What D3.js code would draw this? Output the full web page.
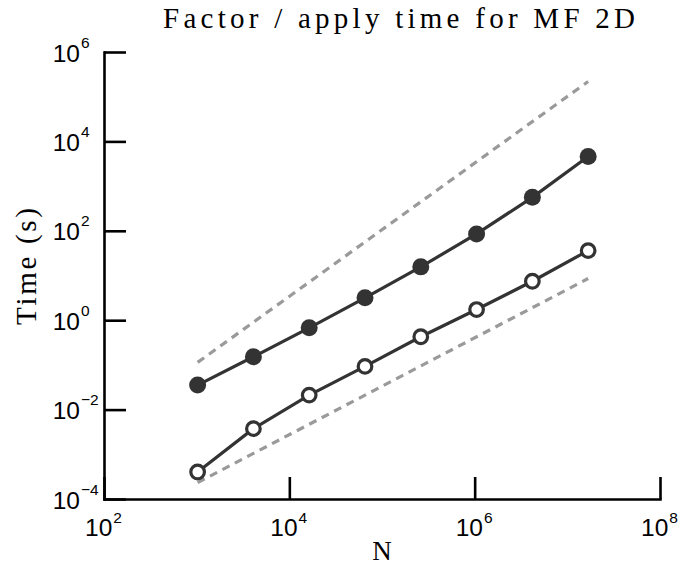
<!DOCTYPE html>
<html><head><meta charset="utf-8">
<script src="https://cdn.jsdelivr.net/npm/d3@7"></script>
<style>body{margin:0;background:#fff}</style>
</head><body>
<svg id="c" width="681" height="573"></svg>
<script>
const N = [1024, 4096, 16384, 65536, 262144, 1048576, 4194304, 16777216];
const factorTime = [0.0353, 0.152, 0.676, 3.16, 15.6, 85.2, 560, 4610];
const applyTime = [4.02e-4, 3.75e-3, 0.0211, 0.0925, 0.426, 1.73, 7.43, 36.1];
const refUpper = [[1024, 0.114], [16777216, 2.19e5]];
const refLower = [[1024, 2.33e-4], [16777216, 8.55]];
const xTickExp = [2, 4, 6, 8];
const yTickExp = [-4, -2, 0, 2, 4, 6];
const title = "Factor / apply time for MF 2D";
const xLabel = "N";
const yLabel = "Time (s)";

const svg = d3.select("#c");
const x = d3.scaleLog().domain([1e2, 1e8]).range([104, 660]);
const y = d3.scaleLog().domain([1e-4, 1e6]).range([499, 52]);

const sans = "'Liberation Sans', Arial, Helvetica, sans-serif";
const serif = "'Liberation Serif', 'Times New Roman', serif";

// axes
const xAxis = d3.axisBottom(x).tickValues(xTickExp.map(e => Math.pow(10, e)))
  .tickSizeInner(-22).tickSizeOuter(0).tickFormat("");
const yAxis = d3.axisLeft(y).tickValues(yTickExp.map(e => Math.pow(10, e)))
  .tickSizeInner(-22).tickSizeOuter(0).tickFormat("");
const gx = svg.append("g").attr("transform", `translate(0,${y.range()[0]})`).call(xAxis);
const gy = svg.append("g").attr("transform", `translate(${x.range()[0]},0)`).call(yAxis);
[gx, gy].forEach(g => {
  g.selectAll("path,line").attr("stroke", "#000").attr("stroke-width", 2.6);
  g.select(".domain").attr("stroke-linecap", "square");
});

// x tick labels
xTickExp.forEach(e => {
  const t = svg.append("text").attr("x", x(Math.pow(10, e)) - 19).attr("y", 536)
    .attr("font-family", sans).attr("font-size", 24.5).attr("fill", "#000");
  t.append("tspan").text("10");
  t.append("tspan").attr("dy", -13).attr("font-size", 15.5).attr("dx", 1).text(String(e).replace("-", "\u2212"));
});
// y tick labels
yTickExp.forEach(e => {
  const yy = y(Math.pow(10, e)) + 9.5;
  svg.append("text").attr("x", 80).attr("y", yy).attr("text-anchor", "end")
    .attr("font-family", sans).attr("font-size", 24.5).attr("fill", "#000").text("10");
  svg.append("text").attr("x", 81).attr("y", yy - 14)
    .attr("font-family", sans).attr("font-size", 15.5).attr("fill", "#000")
    .text(String(e).replace("-", "\u2212"));
});

// reference dashed lines
const line = d3.line().x(d => x(d[0])).y(d => y(d[1]));
[refUpper, refLower].forEach(r => {
  svg.append("path").attr("d", line(r)).attr("fill", "none")
    .attr("stroke", "#9a9a9a").attr("stroke-width", 3.2).attr("stroke-dasharray", "8,6");
});

// series
const fData = N.map((n, i) => [n, factorTime[i]]);
const aData = N.map((n, i) => [n, applyTime[i]]);
[fData, aData].forEach(d => {
  svg.append("path").attr("d", line(d)).attr("fill", "none")
    .attr("stroke", "#333").attr("stroke-width", 3.2);
});
svg.selectAll(".f").data(fData).enter().append("circle")
  .attr("cx", d => x(d[0])).attr("cy", d => y(d[1])).attr("r", 8.5).attr("fill", "#333");
svg.selectAll(".a").data(aData).enter().append("circle")
  .attr("cx", d => x(d[0])).attr("cy", d => y(d[1])).attr("r", 6.8)
  .attr("fill", "#fff").attr("stroke", "#333").attr("stroke-width", 3.2);

// titles
svg.append("text").attr("x", 163).attr("y", 28).attr("font-family", serif)
  .attr("font-size", 29).attr("fill", "#000")
  .attr("textLength", 472).attr("lengthAdjust", "spacing").text(title);
svg.append("text").attr("x", 382).attr("y", 560).attr("text-anchor", "middle")
  .attr("font-family", serif).attr("font-size", 27).attr("fill", "#000").text(xLabel);
svg.append("text").attr("transform", "translate(36,266.5) rotate(-90)").attr("text-anchor", "middle")
  .attr("font-family", serif).attr("font-size", 29).attr("fill", "#000")
  .attr("textLength", 117).attr("lengthAdjust", "spacing").text(yLabel);
</script>
</body></html>
